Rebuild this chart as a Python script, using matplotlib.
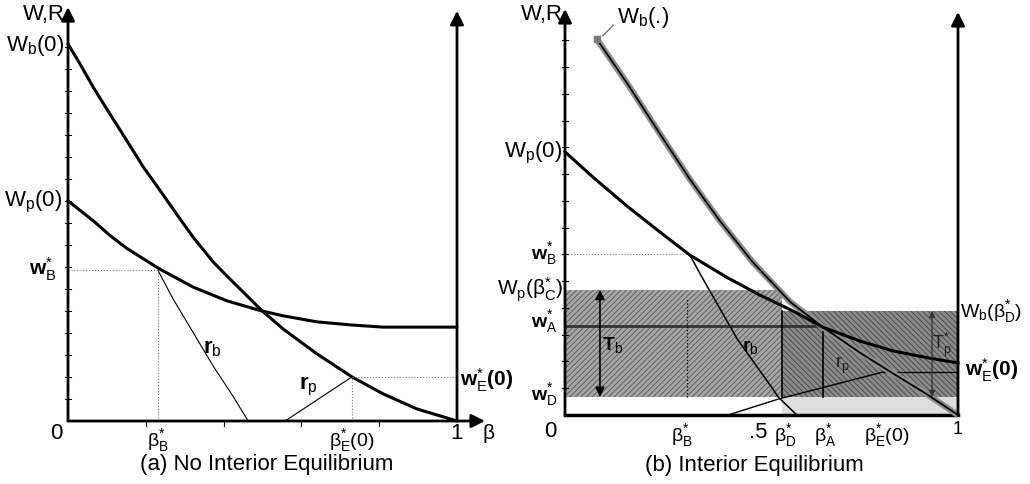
import matplotlib
matplotlib.use('Agg')
import matplotlib.pyplot as plt

plt.rcParams['font.family'] = ['Liberation Sans', 'DejaVu Sans']
plt.rcParams['mathtext.fontset'] = 'custom'
plt.rcParams['mathtext.rm'] = 'Liberation Sans'
plt.rcParams['mathtext.it'] = 'Liberation Sans:italic'
plt.rcParams['mathtext.bf'] = 'Liberation Sans:bold'
plt.rcParams['hatch.linewidth'] = 0.6
plt.rcParams['lines.solid_joinstyle'] = 'round'

# ---- panel (a): No Interior Equilibrium ----
a_beta_wb = [0.0, 0.031, 0.065, 0.108, 0.151, 0.194, 0.237, 0.279, 0.322, 0.374, 0.408, 0.468,
             0.494, 0.553, 0.640, 0.730, 0.810, 0.897, 1.0]
a_wb = [1.0, 0.947, 0.885, 0.814, 0.744, 0.673, 0.611, 0.549, 0.487, 0.421, 0.385, 0.324,
        0.297, 0.244, 0.178, 0.117, 0.072, 0.032, 0.0]
a_beta_wp = [0.0, 0.065, 0.108, 0.151, 0.236, 0.322, 0.408, 0.494, 0.553, 0.640, 0.725, 0.810, 1.0]
a_wp = [0.584, 0.531, 0.492, 0.458, 0.403, 0.355, 0.319, 0.293, 0.279, 0.263, 0.255, 0.249, 0.249]
a_beta_rb = [0.231, 0.270, 0.321, 0.373, 0.424, 0.463]
a_rb = [0.400, 0.324, 0.236, 0.146, 0.066, 0.0]
a_beta_rp = [0.558, 0.730]
a_rp = [0.0, 0.117]
a_beta_B, a_w_B = 0.231, 0.400
a_beta_E, a_w_E = 0.730, 0.117
a_ticks_w = [0.0584 * k for k in range(1, 18)]
a_ticks_beta = [0.2, 0.4, 0.6, 0.8]

# ---- panel (b): Interior Equilibrium ----
b_beta_wb = [0.081, 0.158, 0.242, 0.318, 0.394, 0.478, 0.573, 0.656, 0.751, 0.835, 0.921, 1.0]
b_wb = [0.997, 0.880, 0.745, 0.625, 0.515, 0.405, 0.300, 0.233, 0.165, 0.110, 0.055, 0.0]
b_beta_wp = [0.0, 0.071, 0.158, 0.242, 0.318, 0.412, 0.496, 0.580, 0.656, 0.751, 0.835, 0.921, 1.0]
b_wp = [0.698, 0.631, 0.554, 0.485, 0.424, 0.365, 0.318, 0.276, 0.233, 0.196, 0.170, 0.152, 0.138]
b_beta_rb = [0.318, 0.344, 0.438, 0.529, 0.542, 0.590]
b_rb = [0.424, 0.374, 0.202, 0.069, 0.048, 0.0]
b_beta_rp = [0.415, 0.542, 0.809]
b_rp = [0.0, 0.042, 0.114]
b_beta_B, b_w_B = 0.31, 0.426
b_beta_D, b_beta_A = 0.552, 0.656
b_w_A, b_w_D = 0.235, 0.048
b_wp_C, b_wb_D = 0.332, 0.276
b_w_E = 0.114
b_ticks_w = [0.071 * k for k in range(1, 15)]

fig = plt.figure(figsize=(10.30, 4.85), dpi=100)
ax1 = fig.add_axes([0, 0, 515 / 1030, 1])
ax2 = fig.add_axes([505 / 1030, 0, 525 / 1030, 1])
ax1.set_xlim(-68 / 389, (515 - 68) / 389)
ax1.set_ylim(-63 / 377, 422 / 377)
ax2.set_xlim(-60 / 393, 465 / 393)
ax2.set_ylim(-69 / 377, 416 / 377)
for ax in (ax1, ax2):
    ax.axis('off')

fs = 16
fs_b = 15
arrow = dict(arrowstyle='-|>', color='k', lw=2, mutation_scale=20, shrinkA=0, shrinkB=0)


def up_arrow(ax, x, y0, y1):
    ax.annotate('', xy=(x, y1), xytext=(x, y0), arrowprops=arrow)


# ===== panel (a) =====
up_arrow(ax1, 0, 0, 1.098)
up_arrow(ax1, 1, 0, 1.088)
ax1.annotate('', xy=(1.072, 0), xytext=(0, 0), arrowprops=arrow)
for t in a_ticks_w:
    ax1.plot([-0.008, 0.008], [t, t], color='k', lw=0.8)
for t in a_ticks_beta:
    ax1.plot([t, t], [0, -0.012], color='k', lw=0.8)

ax1.plot(a_beta_wb, a_wb, color='k', lw=2.2, solid_capstyle='round')
ax1.plot(a_beta_wp, a_wp, color='k', lw=2.2, solid_capstyle='round')
ax1.plot(a_beta_rb, a_rb, color='k', lw=0.8)
ax1.plot(a_beta_rp, a_rp, color='k', lw=0.8)
ax1.plot([0, a_beta_B], [a_w_B, a_w_B], color='#777777', lw=0.8, ls=':')
ax1.plot([a_beta_B, a_beta_B], [0, a_w_B], color='#777777', lw=0.8, ls=':')
ax1.plot([a_beta_E, 1], [a_w_E, a_w_E], color='#777777', lw=0.8, ls=':')
ax1.plot([a_beta_E, a_beta_E], [0, a_w_E], color='#777777', lw=0.8, ls=':')

ax1.text(-0.008, 1.08, 'W,R', fontsize=fs, ha='right', va='center')
ax1.text(-0.01, 1.0, r'W$_\mathrm{b}$(0)', fontsize=fs, ha='right', va='center')
ax1.text(-0.015, 0.584, r'W$_\mathrm{p}$(0)', fontsize=fs, ha='right', va='center')
ax1.text(-0.03, 0.405, r'w$_\mathrm{B}^{*}$', fontsize=fs_b, ha='right', va='center', fontweight='bold')
ax1.text(-0.015, -0.03, '0', fontsize=fs, ha='right', va='center')
ax1.text(1.0, -0.03, '1', fontsize=fs, ha='center', va='center')
ax1.text(1.08, -0.03, 'β', fontsize=fs - 1, ha='center', va='center')
ax1.text(a_beta_B, -0.05, r'β$_\mathrm{B}^{*}$', fontsize=fs - 2, ha='center', va='center')
ax1.text(a_beta_E, -0.05, r'β$_\mathrm{E}^{*}$(0)', fontsize=fs - 2, ha='center', va='center')
ax1.text(0.37, 0.196, r'r$_\mathrm{b}$', fontsize=fs, ha='center', va='center', fontweight='bold')
ax1.text(0.617, 0.093, r'r$_\mathrm{p}$', fontsize=fs, ha='center', va='center', fontweight='bold')
ax1.text(1.008, 0.11, r'w$_\mathrm{E}^{*}$(0)', fontsize=fs_b, ha='left', va='center', fontweight='bold')
ax1.text(0.512, -0.114, '(a) No Interior Equilibrium', fontsize=16, ha='center', va='center')

# ===== panel (b) =====
ax2.fill_between([0, b_beta_D], b_w_D, b_wp_C, facecolor='#a5a5a5', hatch='//////',
                 edgecolor='#555555', lw=0, zorder=1)
ax2.fill_between([b_beta_D, 1], b_w_D, b_wb_D, facecolor='#8a8a8a', hatch='\\\\\\\\\\\\',
                 edgecolor='#444444', lw=0, zorder=1)
ax2.fill_between([b_beta_D, 1], 0, b_w_D, facecolor='#dedede', lw=0, zorder=1)

up_arrow(ax2, 0, 0, 1.077)
up_arrow(ax2, 1, 0, 1.069)
ax2.plot([0, 1], [0, 0], color='k', lw=2.5)
for t in b_ticks_w:
    ax2.plot([-0.008, 0.008], [t, t], color='k', lw=0.8)

ax2.plot([0, b_beta_A], [b_w_A, b_w_A], color='#333333', lw=2)
ax2.plot([0, b_beta_B], [b_w_B, b_w_B], color='#777777', lw=0.8, ls=':')
ax2.plot([b_beta_B, b_beta_B], [b_w_D, 0.31], color='k', lw=0.9, ls=':')
ax2.plot([b_beta_D, b_beta_D], [b_w_D, b_wb_D], color='k', lw=1.2)
ax2.plot([b_beta_A, b_beta_A], [b_w_D, b_w_A], color='k', lw=1.2)
ax2.plot([b_beta_rp[-1], 1], [b_w_E, b_w_E], color='k', lw=0.9)

ax2.plot(b_beta_wb, b_wb, color='#8f8f8f', lw=4.5, solid_capstyle='butt')
ax2.plot(b_beta_wb, b_wb, color='k', lw=1.3)
ax2.plot(b_beta_wp, b_wp, color='k', lw=2.2)
ax2.plot(b_beta_rb, b_rb, color='k', lw=1.1)
ax2.plot(b_beta_rp, b_rp, color='k', lw=1.0)
ax2.plot([b_beta_wb[0]], [b_wb[0]], marker='s', ms=5, color='#7a7a7a')
ax2.annotate('', xy=(b_beta_wb[0] + 0.01, b_wb[0] + 0.003), xytext=(0.128, 1.04),
             arrowprops=dict(arrowstyle='-', color='#555555', lw=0.8))

ax2.annotate('', xy=(0.089, b_w_D), xytext=(0.089, b_wp_C),
             arrowprops=dict(arrowstyle='<|-|>', color='k', lw=1.2, mutation_scale=14,
                             shrinkA=0, shrinkB=0))
ax2.annotate('', xy=(0.934, b_w_D), xytext=(0.934, b_wb_D),
             arrowprops=dict(arrowstyle='<|-|>', color='#333333', lw=0.9, mutation_scale=9,
                             shrinkA=0, shrinkB=0))

ax2.text(-0.005, 1.064, 'W,R', fontsize=fs, ha='right', va='center')
ax2.text(0.132, 1.058, r'W$_\mathrm{b}$(.)', fontsize=fs, ha='left', va='center')
ax2.text(-0.008, 0.698, r'W$_\mathrm{p}$(0)', fontsize=fs, ha='right', va='center')
ax2.text(-0.02, 0.43, r'w$_\mathrm{B}^{*}$', fontsize=fs_b - 1, ha='right', va='center', fontweight='bold')
ax2.text(-0.005, 0.335, r'W$_\mathrm{p}$(β$_\mathrm{C}^{*}$)', fontsize=fs - 1, ha='right', va='center')
ax2.text(-0.02, 0.25, r'w$_\mathrm{A}^{*}$', fontsize=fs_b - 1, ha='right', va='center', fontweight='bold')
ax2.text(-0.02, 0.058, r'w$_\mathrm{D}^{*}$', fontsize=fs_b - 1, ha='right', va='center', fontweight='bold')
ax2.text(-0.038, -0.04, '0', fontsize=fs, ha='center', va='center')
ax2.text(1.0, -0.035, '1', fontsize=fs - 3, ha='center', va='center')
ax2.text(b_beta_B - 0.012, -0.052, r'β$_\mathrm{B}^{*}$', fontsize=fs - 2, ha='center', va='center')
ax2.text(0.491, -0.045, '.5', fontsize=fs, ha='center', va='center')
ax2.text(0.56, -0.052, r'β$_\mathrm{D}^{*}$', fontsize=fs - 2, ha='center', va='center')
ax2.text(0.662, -0.052, r'β$_\mathrm{A}^{*}$', fontsize=fs - 2, ha='center', va='center')
ax2.text(0.82, -0.052, r'β$_\mathrm{E}^{*}$(0)', fontsize=fs - 2, ha='center', va='center')
ax2.text(1.005, 0.276, r'W$_\mathrm{b}$(β$_\mathrm{D}^{*}$)', fontsize=14, ha='left', va='center')
ax2.text(1.018, 0.122, r'w$_\mathrm{E}^{*}$(0)', fontsize=fs_b, ha='left', va='center', fontweight='bold')
ax2.text(0.122, 0.188, r'T$_\mathrm{b}$', fontsize=fs - 2, ha='center', va='center', fontweight='bold')
ax2.text(0.471, 0.183, r'r$_\mathrm{b}$', fontsize=fs - 2, ha='center', va='center', fontweight='bold')
ax2.text(0.705, 0.135, r'r$_\mathrm{p}$', fontsize=fs - 3, ha='center', va='center', color='#222222')
ax2.text(0.96, 0.188, r'T$_\mathrm{p}^{*}$', fontsize=fs - 3, ha='center', va='center', color='#222222')
ax2.text(0.483, -0.13, '(b) Interior Equilibrium', fontsize=16, ha='center', va='center')

fig.savefig('out.png', dpi=100)
